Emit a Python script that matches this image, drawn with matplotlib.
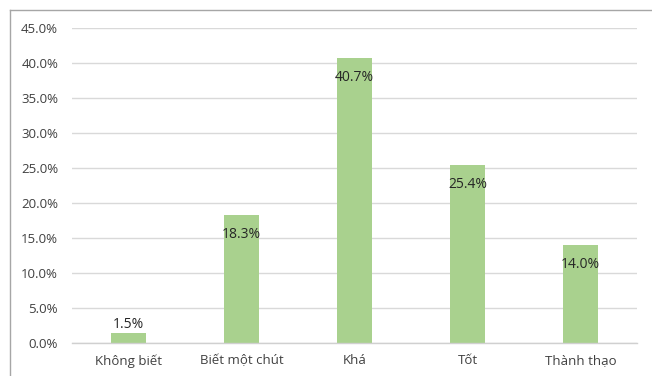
import matplotlib
matplotlib.use("Agg")
import matplotlib.pyplot as plt
from matplotlib.ticker import FuncFormatter, MultipleLocator
from matplotlib.lines import Line2D

categories = ["Không biết", "Biết một chút", "Khá", "Tốt", "Thành thạo"]
values = [1.5, 18.3, 40.7, 25.4, 14.0]
labels = ["1.5%", "18.3%", "40.7%", "25.4%", "14.0%"]

plt.rcParams['font.family'] = ['Open Sans', 'DejaVu Sans']

W, H = 652, 376
fig = plt.figure(figsize=(W / 100, H / 100), dpi=100)
ax = fig.add_axes([72 / W, 1 - 343 / H, (637 - 72) / W, (343 - 28) / H])

x = list(range(len(categories)))
bars = ax.bar(x, values, width=0.31, color="#a9d18e", zorder=3)

ax.set_xlim(-0.5, len(categories) - 0.5)
ax.set_ylim(0, 45)
ax.yaxis.set_major_locator(MultipleLocator(5))
ax.yaxis.set_major_formatter(FuncFormatter(lambda v, p: f"{v:.1f}%"))
ax.set_xticks(x)
ax.set_xticklabels(categories)

ax.grid(axis="y", color="#d9d9d9", linewidth=1, zorder=0)
for s in ["top", "right", "left"]:
    ax.spines[s].set_visible(False)
ax.spines["bottom"].set_color("#d0d0d0")
ax.spines["bottom"].set_linewidth(1)
ax.spines["bottom"].set_zorder(4)

ax.tick_params(axis="both", length=0, labelsize=9.5, colors="#404040")
ax.tick_params(axis="y", pad=10)
ax.tick_params(axis="x", pad=8)

for b, v, lab in zip(bars, values, labels):
    cx = b.get_x() + b.get_width() / 2
    if v < 5:
        ax.annotate(lab, (cx, v), xytext=(0, 0.5), textcoords="offset points",
                    ha="center", va="bottom", fontsize=10, color="#262626", zorder=5)
    else:
        ax.annotate(lab, (cx, v), xytext=(0, -14), textcoords="offset points",
                    ha="center", va="center", fontsize=10, color="#262626", zorder=5)

# chart border (top and left visible)
fig.add_artist(Line2D([10 / W, 1], [1 - 10 / H, 1 - 10 / H], color="#a6a6a6", linewidth=1))
fig.add_artist(Line2D([10 / W, 10 / W], [0, 1 - 10 / H], color="#a6a6a6", linewidth=1))

fig.savefig("out.png", dpi=100)
